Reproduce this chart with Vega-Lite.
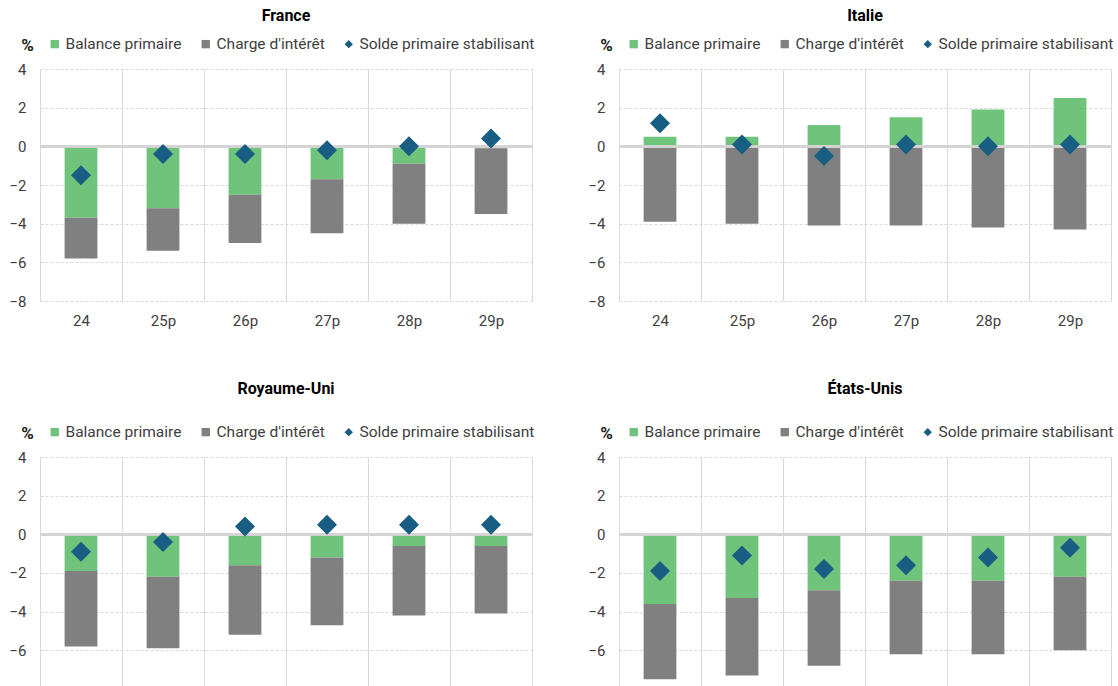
{
  "$schema": "https://vega.github.io/schema/vega-lite/v6.json",
  "padding": {"left": 8, "top": 8, "right": 0, "bottom": 0},
  "background": "white",
  "bounds": "flush",
  "columns": 2,
  "spacing": {"row": 156, "column": 87},
  "resolve": {"legend": {"color": "independent", "shape": "independent"}, "scale": {"y": "independent", "x": "independent"}},
  "config": {
    "font": "Roboto",
    "view": {"stroke": null},
    "title": {"fontSize": 16, "fontWeight": "bold", "color": "#000000", "anchor": "middle", "font": "Roboto"},
    "axis": {"labelFont": "Roboto", "labelFontSize": 15, "labelColor": "#404040", "domain": false, "ticks": false, "labelOverlap": false},
    "legend": {"title": null, "orient": "none", "legendX": 7, "legendY": -33, "direction": "horizontal", "labelFontSize": 15.5, "labelColor": "#404040", "labelLimit": 400, "symbolSize": 70, "columnPadding": 16, "labelOffset": 3}
  },
  "datasets": {
    "d": [
      {"c": "France", "x": "24", "s": "Balance primaire", "v": -3.7},
      {"c": "France", "x": "25p", "s": "Balance primaire", "v": -3.2},
      {"c": "France", "x": "26p", "s": "Balance primaire", "v": -2.5},
      {"c": "France", "x": "27p", "s": "Balance primaire", "v": -1.7},
      {"c": "France", "x": "28p", "s": "Balance primaire", "v": -0.9},
      {"c": "France", "x": "29p", "s": "Balance primaire", "v": -0.1},
      {"c": "France", "x": "24", "s": "Charge d'intérêt", "v": -2.1},
      {"c": "France", "x": "25p", "s": "Charge d'intérêt", "v": -2.2},
      {"c": "France", "x": "26p", "s": "Charge d'intérêt", "v": -2.5},
      {"c": "France", "x": "27p", "s": "Charge d'intérêt", "v": -2.8},
      {"c": "France", "x": "28p", "s": "Charge d'intérêt", "v": -3.1},
      {"c": "France", "x": "29p", "s": "Charge d'intérêt", "v": -3.4},
      {"c": "France", "x": "24", "s": "Solde primaire stabilisant", "v": -1.5},
      {"c": "France", "x": "25p", "s": "Solde primaire stabilisant", "v": -0.4},
      {"c": "France", "x": "26p", "s": "Solde primaire stabilisant", "v": -0.4},
      {"c": "France", "x": "27p", "s": "Solde primaire stabilisant", "v": -0.2},
      {"c": "France", "x": "28p", "s": "Solde primaire stabilisant", "v": 0.0},
      {"c": "France", "x": "29p", "s": "Solde primaire stabilisant", "v": 0.4},
      {"c": "Italie", "x": "24", "s": "Balance primaire", "v": 0.5},
      {"c": "Italie", "x": "25p", "s": "Balance primaire", "v": 0.5},
      {"c": "Italie", "x": "26p", "s": "Balance primaire", "v": 1.1},
      {"c": "Italie", "x": "27p", "s": "Balance primaire", "v": 1.5},
      {"c": "Italie", "x": "28p", "s": "Balance primaire", "v": 1.9},
      {"c": "Italie", "x": "29p", "s": "Balance primaire", "v": 2.5},
      {"c": "Italie", "x": "24", "s": "Charge d'intérêt", "v": -3.9},
      {"c": "Italie", "x": "25p", "s": "Charge d'intérêt", "v": -4.0},
      {"c": "Italie", "x": "26p", "s": "Charge d'intérêt", "v": -4.1},
      {"c": "Italie", "x": "27p", "s": "Charge d'intérêt", "v": -4.1},
      {"c": "Italie", "x": "28p", "s": "Charge d'intérêt", "v": -4.2},
      {"c": "Italie", "x": "29p", "s": "Charge d'intérêt", "v": -4.3},
      {"c": "Italie", "x": "24", "s": "Solde primaire stabilisant", "v": 1.2},
      {"c": "Italie", "x": "25p", "s": "Solde primaire stabilisant", "v": 0.1},
      {"c": "Italie", "x": "26p", "s": "Solde primaire stabilisant", "v": -0.5},
      {"c": "Italie", "x": "27p", "s": "Solde primaire stabilisant", "v": 0.1},
      {"c": "Italie", "x": "28p", "s": "Solde primaire stabilisant", "v": 0.0},
      {"c": "Italie", "x": "29p", "s": "Solde primaire stabilisant", "v": 0.1},
      {"c": "Royaume-Uni", "x": "24", "s": "Balance primaire", "v": -1.9},
      {"c": "Royaume-Uni", "x": "25p", "s": "Balance primaire", "v": -2.2},
      {"c": "Royaume-Uni", "x": "26p", "s": "Balance primaire", "v": -1.6},
      {"c": "Royaume-Uni", "x": "27p", "s": "Balance primaire", "v": -1.2},
      {"c": "Royaume-Uni", "x": "28p", "s": "Balance primaire", "v": -0.6},
      {"c": "Royaume-Uni", "x": "29p", "s": "Balance primaire", "v": -0.6},
      {"c": "Royaume-Uni", "x": "24", "s": "Charge d'intérêt", "v": -3.9},
      {"c": "Royaume-Uni", "x": "25p", "s": "Charge d'intérêt", "v": -3.7},
      {"c": "Royaume-Uni", "x": "26p", "s": "Charge d'intérêt", "v": -3.6},
      {"c": "Royaume-Uni", "x": "27p", "s": "Charge d'intérêt", "v": -3.5},
      {"c": "Royaume-Uni", "x": "28p", "s": "Charge d'intérêt", "v": -3.6},
      {"c": "Royaume-Uni", "x": "29p", "s": "Charge d'intérêt", "v": -3.5},
      {"c": "Royaume-Uni", "x": "24", "s": "Solde primaire stabilisant", "v": -0.9},
      {"c": "Royaume-Uni", "x": "25p", "s": "Solde primaire stabilisant", "v": -0.4},
      {"c": "Royaume-Uni", "x": "26p", "s": "Solde primaire stabilisant", "v": 0.4},
      {"c": "Royaume-Uni", "x": "27p", "s": "Solde primaire stabilisant", "v": 0.5},
      {"c": "Royaume-Uni", "x": "28p", "s": "Solde primaire stabilisant", "v": 0.5},
      {"c": "Royaume-Uni", "x": "29p", "s": "Solde primaire stabilisant", "v": 0.5},
      {"c": "États-Unis", "x": "24", "s": "Balance primaire", "v": -3.6},
      {"c": "États-Unis", "x": "25p", "s": "Balance primaire", "v": -3.3},
      {"c": "États-Unis", "x": "26p", "s": "Balance primaire", "v": -2.9},
      {"c": "États-Unis", "x": "27p", "s": "Balance primaire", "v": -2.4},
      {"c": "États-Unis", "x": "28p", "s": "Balance primaire", "v": -2.4},
      {"c": "États-Unis", "x": "29p", "s": "Balance primaire", "v": -2.2},
      {"c": "États-Unis", "x": "24", "s": "Charge d'intérêt", "v": -3.9},
      {"c": "États-Unis", "x": "25p", "s": "Charge d'intérêt", "v": -4.0},
      {"c": "États-Unis", "x": "26p", "s": "Charge d'intérêt", "v": -3.9},
      {"c": "États-Unis", "x": "27p", "s": "Charge d'intérêt", "v": -3.8},
      {"c": "États-Unis", "x": "28p", "s": "Charge d'intérêt", "v": -3.8},
      {"c": "États-Unis", "x": "29p", "s": "Charge d'intérêt", "v": -3.8},
      {"c": "États-Unis", "x": "24", "s": "Solde primaire stabilisant", "v": -1.9},
      {"c": "États-Unis", "x": "25p", "s": "Solde primaire stabilisant", "v": -1.1},
      {"c": "États-Unis", "x": "26p", "s": "Solde primaire stabilisant", "v": -1.8},
      {"c": "États-Unis", "x": "27p", "s": "Solde primaire stabilisant", "v": -1.6},
      {"c": "États-Unis", "x": "28p", "s": "Solde primaire stabilisant", "v": -1.2},
      {"c": "États-Unis", "x": "29p", "s": "Solde primaire stabilisant", "v": -0.7}
    ]
  },
  "concat": [
    {
      "width": 492, "height": 232,
      "title": {"text": "France", "offset": 12},
      "data": {"name": "d"},
      "transform": [{"filter": "datum.c === 'France'"}],
      "layer": [
        {"mark": {"type": "bar", "width": {"band": 0.4}},
         "transform": [{"filter": "datum.s !== 'Solde primaire stabilisant'"}],
         "encoding": {
           "x": {"field": "x", "type": "ordinal", "sort": ["24","25p","26p","27p","28p","29p"], "scale": {"paddingInner": 0, "paddingOuter": 0}, "axis": {"title": null, "labelAngle": 0, "labelPadding": 12, "grid": true, "tickBand": "extent", "gridColor": "#d9d9d9", "gridWidth": 1}},
           "y": {"field": "v", "type": "quantitative", "stack": "zero", "scale": {"domain": [-8, 4], "nice": false, "zero": false}, "axis": {"values": [-8,-6,-4,-2,0,2,4], "tickCount": 7, "labelOverlap": false, "title": "%", "titleAngle": 0, "titleX": -13, "titleY": -24, "titleAlign": "center", "titleBaseline": "middle", "titleFontSize": 17, "titleFontWeight": "bold", "titleColor": "#222", "labelPadding": 14, "grid": true, "gridDash": [3, 2], "gridColor": "#d9d9d9"}},
           "order": {"field": "s", "sort": "ascending"},
           "color": {"field": "s", "type": "nominal", "scale": {"domain": ["Balance primaire", "Charge d'intérêt", "Solde primaire stabilisant"], "range": ["#6FC37B", "#808080", "#175E82"]}}
         }},
        {"mark": {"type": "rule", "color": "#d4d4d4", "strokeWidth": 2}, "encoding": {"y": {"datum": 0}}},
        {"mark": {"type": "point", "filled": true, "size": 400, "opacity": 1},
         "transform": [{"filter": "datum.s === 'Solde primaire stabilisant'"}],
         "encoding": {
           "x": {"field": "x", "type": "ordinal", "sort": ["24","25p","26p","27p","28p","29p"]},
           "y": {"field": "v", "type": "quantitative", "axis": {"values": [-8,-6,-4,-2,0,2,4], "tickCount": 7, "labelOverlap": false, "title": "%", "titleAngle": 0, "titleX": -13, "titleY": -24, "titleAlign": "center", "titleBaseline": "middle", "titleFontSize": 17, "titleFontWeight": "bold", "titleColor": "#222", "labelPadding": 14, "grid": true, "gridDash": [3, 2], "gridColor": "#d9d9d9"}},
           "color": {"field": "s", "type": "nominal", "scale": {"domain": ["Balance primaire", "Charge d'intérêt", "Solde primaire stabilisant"], "range": ["#6FC37B", "#808080", "#175E82"]}},
           "shape": {"field": "s", "type": "nominal", "scale": {"domain": ["Balance primaire", "Charge d'intérêt", "Solde primaire stabilisant"], "range": ["square", "square", "diamond"]}}
         }}
      ]
    },
    {
      "width": 492, "height": 232,
      "title": {"text": "Italie", "offset": 12},
      "data": {"name": "d"},
      "transform": [{"filter": "datum.c === 'Italie'"}],
      "layer": [
        {"mark": {"type": "bar", "width": {"band": 0.4}},
         "transform": [{"filter": "datum.s !== 'Solde primaire stabilisant'"}],
         "encoding": {
           "x": {"field": "x", "type": "ordinal", "sort": ["24","25p","26p","27p","28p","29p"], "scale": {"paddingInner": 0, "paddingOuter": 0}, "axis": {"title": null, "labelAngle": 0, "labelPadding": 12, "grid": true, "tickBand": "extent", "gridColor": "#d9d9d9", "gridWidth": 1}},
           "y": {"field": "v", "type": "quantitative", "stack": "zero", "scale": {"domain": [-8, 4], "nice": false, "zero": false}, "axis": {"values": [-8,-6,-4,-2,0,2,4], "tickCount": 7, "labelOverlap": false, "title": "%", "titleAngle": 0, "titleX": -13, "titleY": -24, "titleAlign": "center", "titleBaseline": "middle", "titleFontSize": 17, "titleFontWeight": "bold", "titleColor": "#222", "labelPadding": 14, "grid": true, "gridDash": [3, 2], "gridColor": "#d9d9d9"}},
           "order": {"field": "s", "sort": "ascending"},
           "color": {"field": "s", "type": "nominal", "scale": {"domain": ["Balance primaire", "Charge d'intérêt", "Solde primaire stabilisant"], "range": ["#6FC37B", "#808080", "#175E82"]}}
         }},
        {"mark": {"type": "rule", "color": "#d4d4d4", "strokeWidth": 2}, "encoding": {"y": {"datum": 0}}},
        {"mark": {"type": "point", "filled": true, "size": 400, "opacity": 1},
         "transform": [{"filter": "datum.s === 'Solde primaire stabilisant'"}],
         "encoding": {
           "x": {"field": "x", "type": "ordinal", "sort": ["24","25p","26p","27p","28p","29p"]},
           "y": {"field": "v", "type": "quantitative", "axis": {"values": [-8,-6,-4,-2,0,2,4], "tickCount": 7, "labelOverlap": false, "title": "%", "titleAngle": 0, "titleX": -13, "titleY": -24, "titleAlign": "center", "titleBaseline": "middle", "titleFontSize": 17, "titleFontWeight": "bold", "titleColor": "#222", "labelPadding": 14, "grid": true, "gridDash": [3, 2], "gridColor": "#d9d9d9"}},
           "color": {"field": "s", "type": "nominal", "scale": {"domain": ["Balance primaire", "Charge d'intérêt", "Solde primaire stabilisant"], "range": ["#6FC37B", "#808080", "#175E82"]}},
           "shape": {"field": "s", "type": "nominal", "scale": {"domain": ["Balance primaire", "Charge d'intérêt", "Solde primaire stabilisant"], "range": ["square", "square", "diamond"]}}
         }}
      ]
    },
    {
      "width": 492, "height": 230,
      "title": {"text": "Royaume-Uni", "offset": 27},
      "data": {"name": "d"},
      "transform": [{"filter": "datum.c === 'Royaume-Uni'"}],
      "layer": [
        {"mark": {"type": "bar", "width": {"band": 0.4}},
         "transform": [{"filter": "datum.s !== 'Solde primaire stabilisant'"}],
         "encoding": {
           "x": {"field": "x", "type": "ordinal", "sort": ["24","25p","26p","27p","28p","29p"], "scale": {"paddingInner": 0, "paddingOuter": 0}, "axis": {"title": null, "labels": false, "grid": true, "tickBand": "extent", "gridColor": "#d9d9d9", "gridWidth": 1}},
           "y": {"field": "v", "type": "quantitative", "stack": "zero", "scale": {"domain": [-7.9, 4], "nice": false, "zero": false}, "axis": {"values": [-6,-4,-2,0,2,4], "labelOverlap": false, "title": "%", "titleAngle": 0, "titleX": -13, "titleY": -24, "titleAlign": "center", "titleBaseline": "middle", "titleFontSize": 17, "titleFontWeight": "bold", "titleColor": "#222", "labelPadding": 14, "grid": true, "gridDash": [3, 2], "gridColor": "#d9d9d9"}},
           "order": {"field": "s", "sort": "ascending"},
           "color": {"field": "s", "type": "nominal", "scale": {"domain": ["Balance primaire", "Charge d'intérêt", "Solde primaire stabilisant"], "range": ["#6FC37B", "#808080", "#175E82"]}}
         }},
        {"mark": {"type": "rule", "color": "#d4d4d4", "strokeWidth": 2}, "encoding": {"y": {"datum": 0}}},
        {"mark": {"type": "point", "filled": true, "size": 400, "opacity": 1},
         "transform": [{"filter": "datum.s === 'Solde primaire stabilisant'"}],
         "encoding": {
           "x": {"field": "x", "type": "ordinal", "sort": ["24","25p","26p","27p","28p","29p"]},
           "y": {"field": "v", "type": "quantitative", "axis": {"values": [-6,-4,-2,0,2,4], "labelOverlap": false, "title": "%", "titleAngle": 0, "titleX": -13, "titleY": -24, "titleAlign": "center", "titleBaseline": "middle", "titleFontSize": 17, "titleFontWeight": "bold", "titleColor": "#222", "labelPadding": 14, "grid": true, "gridDash": [3, 2], "gridColor": "#d9d9d9"}},
           "color": {"field": "s", "type": "nominal", "scale": {"domain": ["Balance primaire", "Charge d'intérêt", "Solde primaire stabilisant"], "range": ["#6FC37B", "#808080", "#175E82"]}},
           "shape": {"field": "s", "type": "nominal", "scale": {"domain": ["Balance primaire", "Charge d'intérêt", "Solde primaire stabilisant"], "range": ["square", "square", "diamond"]}}
         }}
      ]
    },
    {
      "width": 492, "height": 230,
      "title": {"text": "États-Unis", "offset": 27},
      "data": {"name": "d"},
      "transform": [{"filter": "datum.c === 'États-Unis'"}],
      "layer": [
        {"mark": {"type": "bar", "width": {"band": 0.4}},
         "transform": [{"filter": "datum.s !== 'Solde primaire stabilisant'"}],
         "encoding": {
           "x": {"field": "x", "type": "ordinal", "sort": ["24","25p","26p","27p","28p","29p"], "scale": {"paddingInner": 0, "paddingOuter": 0}, "axis": {"title": null, "labels": false, "grid": true, "tickBand": "extent", "gridColor": "#d9d9d9", "gridWidth": 1}},
           "y": {"field": "v", "type": "quantitative", "stack": "zero", "scale": {"domain": [-7.9, 4], "nice": false, "zero": false}, "axis": {"values": [-6,-4,-2,0,2,4], "labelOverlap": false, "title": "%", "titleAngle": 0, "titleX": -13, "titleY": -24, "titleAlign": "center", "titleBaseline": "middle", "titleFontSize": 17, "titleFontWeight": "bold", "titleColor": "#222", "labelPadding": 14, "grid": true, "gridDash": [3, 2], "gridColor": "#d9d9d9"}},
           "order": {"field": "s", "sort": "ascending"},
           "color": {"field": "s", "type": "nominal", "scale": {"domain": ["Balance primaire", "Charge d'intérêt", "Solde primaire stabilisant"], "range": ["#6FC37B", "#808080", "#175E82"]}}
         }},
        {"mark": {"type": "rule", "color": "#d4d4d4", "strokeWidth": 2}, "encoding": {"y": {"datum": 0}}},
        {"mark": {"type": "point", "filled": true, "size": 400, "opacity": 1},
         "transform": [{"filter": "datum.s === 'Solde primaire stabilisant'"}],
         "encoding": {
           "x": {"field": "x", "type": "ordinal", "sort": ["24","25p","26p","27p","28p","29p"]},
           "y": {"field": "v", "type": "quantitative", "axis": {"values": [-6,-4,-2,0,2,4], "labelOverlap": false, "title": "%", "titleAngle": 0, "titleX": -13, "titleY": -24, "titleAlign": "center", "titleBaseline": "middle", "titleFontSize": 17, "titleFontWeight": "bold", "titleColor": "#222", "labelPadding": 14, "grid": true, "gridDash": [3, 2], "gridColor": "#d9d9d9"}},
           "color": {"field": "s", "type": "nominal", "scale": {"domain": ["Balance primaire", "Charge d'intérêt", "Solde primaire stabilisant"], "range": ["#6FC37B", "#808080", "#175E82"]}},
           "shape": {"field": "s", "type": "nominal", "scale": {"domain": ["Balance primaire", "Charge d'intérêt", "Solde primaire stabilisant"], "range": ["square", "square", "diamond"]}}
         }}
      ]
    }
  ]
}
